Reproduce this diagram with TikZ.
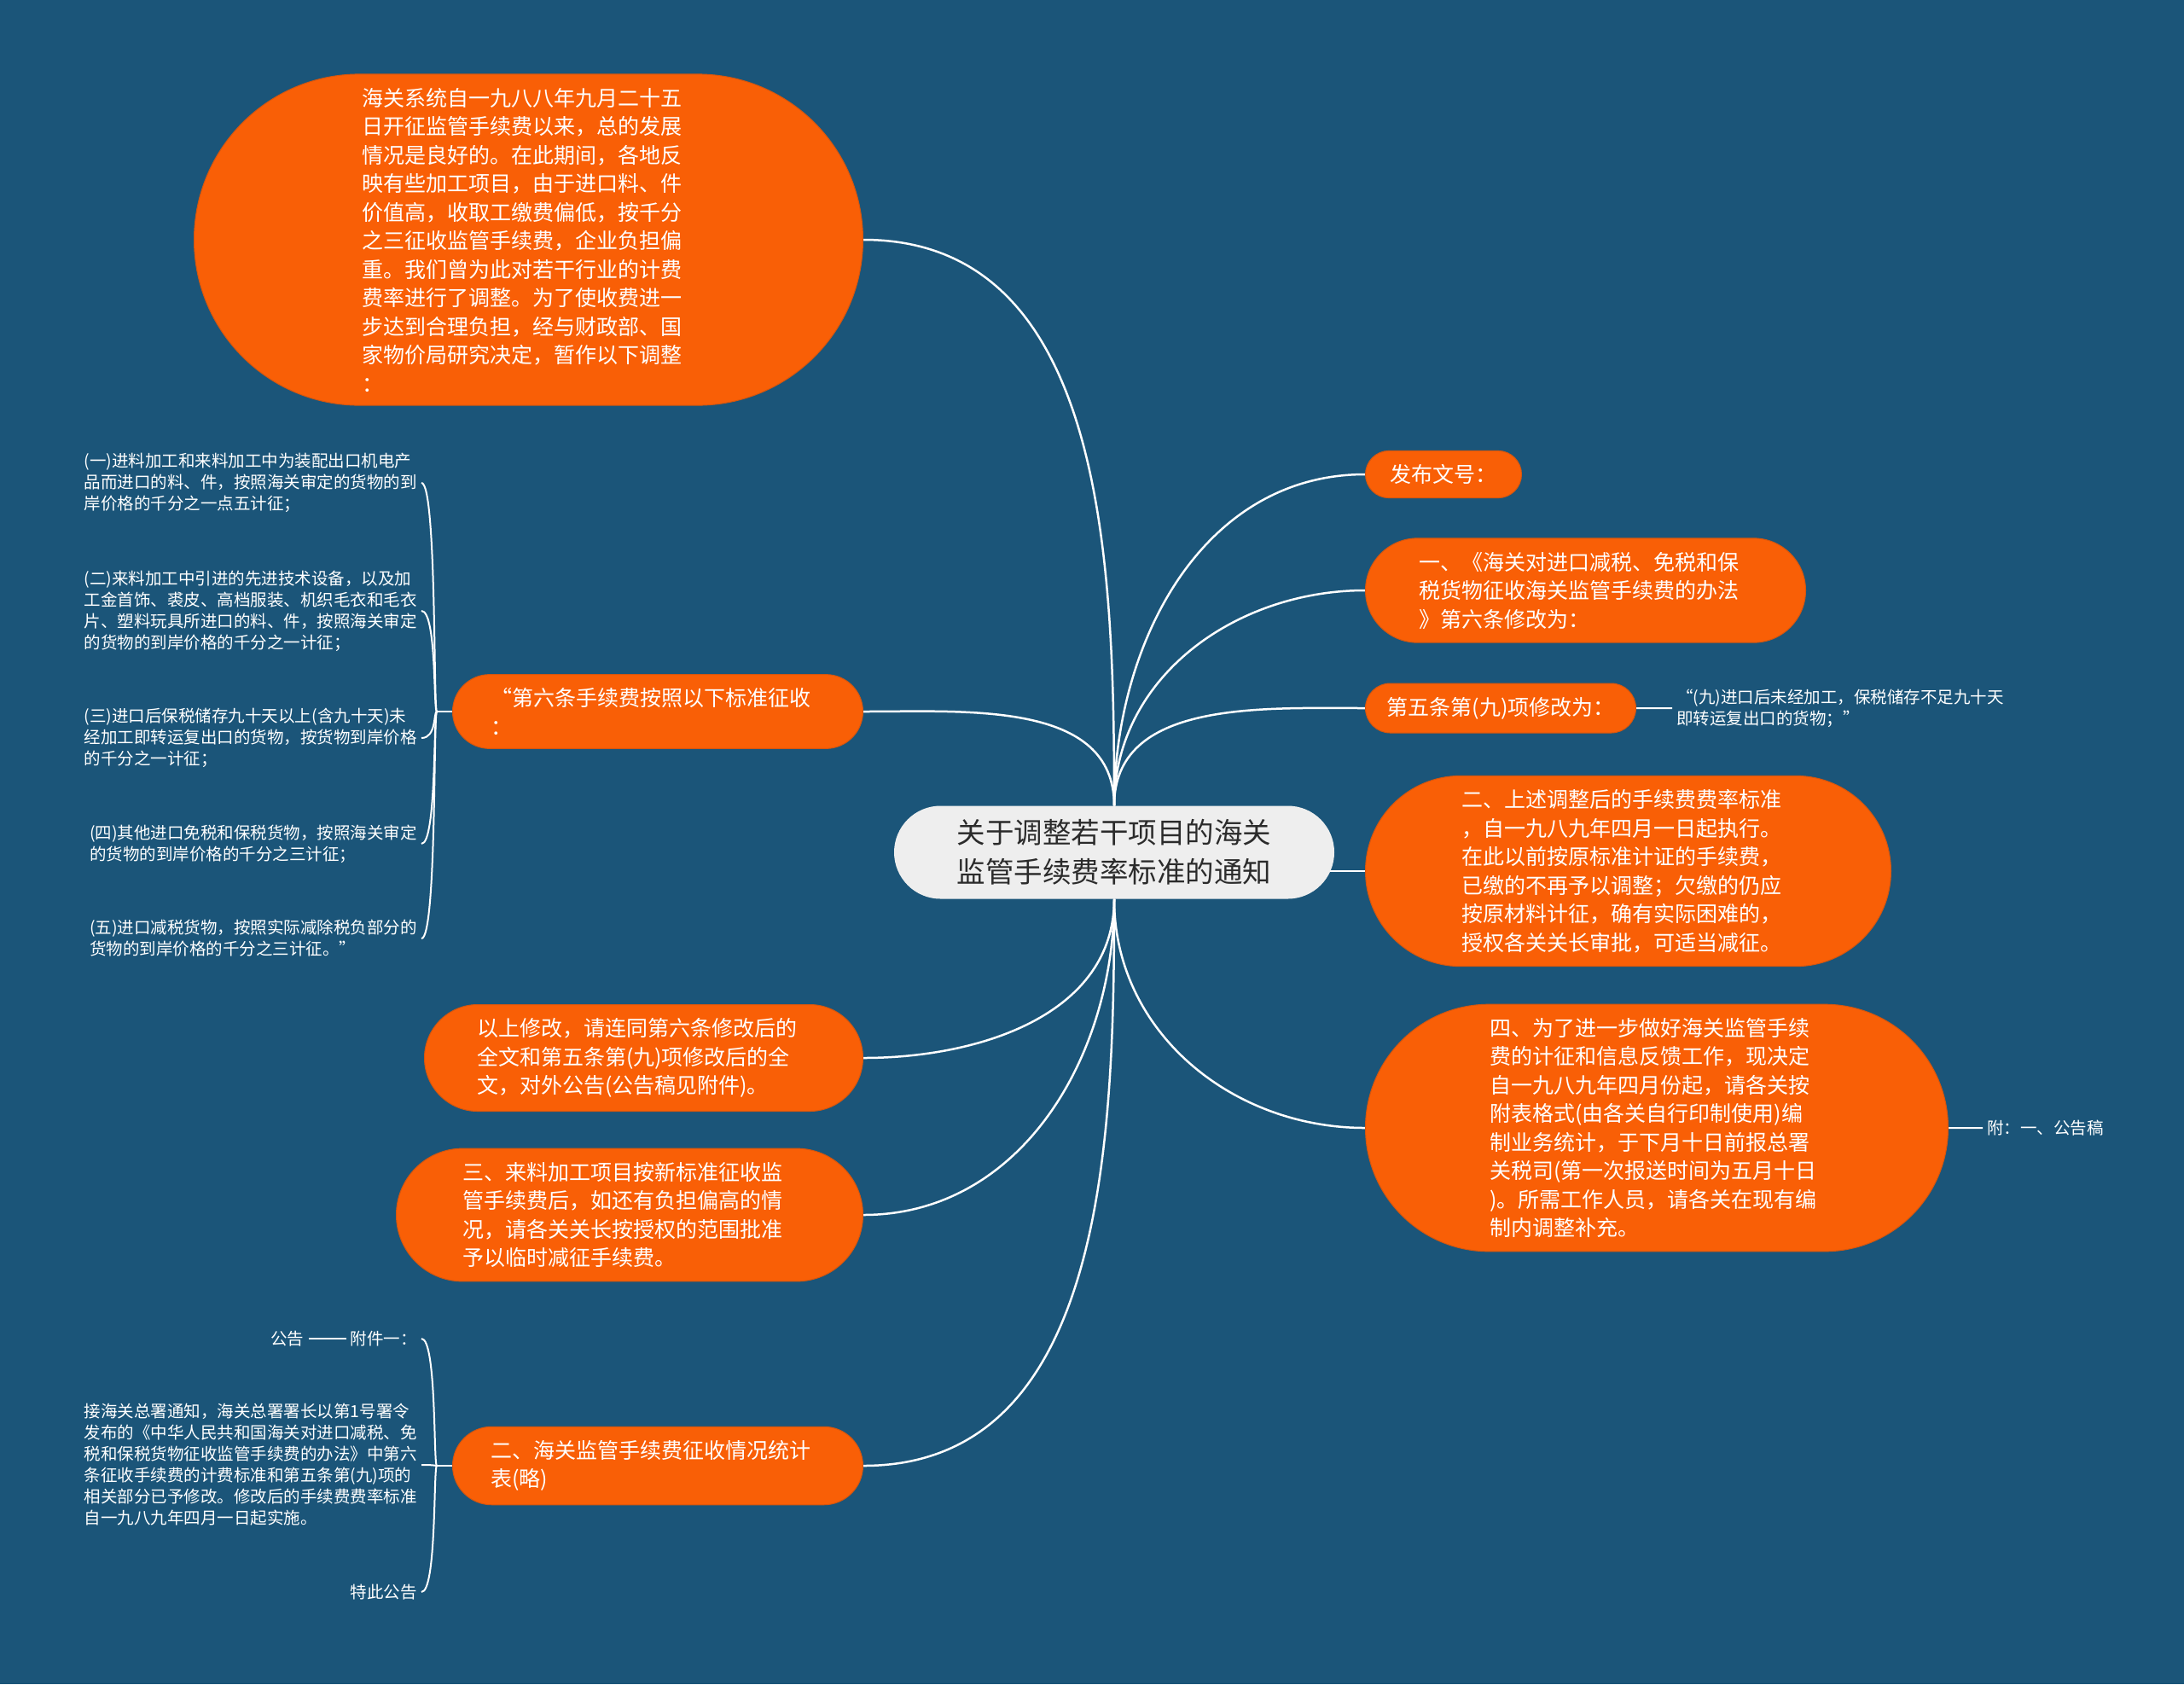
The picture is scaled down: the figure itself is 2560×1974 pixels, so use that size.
\documentclass[tikz,border=0pt]{standalone}
\usepackage{fontspec}
\setmainfont{Noto Sans CJK SC}
\usetikzlibrary{shapes.misc, positioning, calc}

\definecolor{bgblue}{HTML}{1B5579}
\definecolor{topicorange}{HTML}{F95F06}
\definecolor{topicedge}{HTML}{D4560F}
\definecolor{rootgray}{HTML}{EEEEEE}
\definecolor{roottext}{HTML}{2B2B2B}

\pgfdeclarelayer{back}
\pgfdeclarelayer{links}
\pgfsetlayers{back,links,main}

\tikzset{
  root/.style={rounded rectangle, fill=rootgray, text=roottext, align=center,
    font=\fontsize{33.5}{46}\selectfont, inner xsep=10pt, inner ysep=16pt},
  topic/.style={rounded rectangle, fill=topicorange, draw=topicedge, line width=1pt,
    text=white, align=left, font=\fontsize{25}{33.5}\selectfont, inner xsep=8pt, inner ysep=16pt},
  widetopic/.style={topic, text width=391pt},
  leaf/.style={text=white, align=left, font=\fontsize{19.5}{25}\selectfont, inner sep=5pt},
  link/.style={draw=white, line width=2.5pt},
  brace/.style={draw=white, line width=2pt},
}

\begin{document}
\begin{tikzpicture}[x=1pt, y=1pt]
  \begin{pgfonlayer}{back}
    \fill[bgblue] (0,0) rectangle (2560,-1974);
  \end{pgfonlayer}
  \useasboundingbox (0,0) rectangle (2560,-1974);

  % root
  \node[root, minimum width=536pt] (notice) at (1306,-999) {关于调整若干项目的海关\\监管手续费率标准的通知};

  % left side
  \node[widetopic, minimum width=800pt, anchor=east] (intro) at (1012,-281) {海关系统自一九八八年九月二十五\\日开征监管手续费以来，总的发展\\情况是良好的。在此期间，各地反\\映有些加工项目，由于进口料、件\\价值高，收取工缴费偏低，按千分\\之三征收监管手续费，企业负担偏\\重。我们曾为此对若干行业的计费\\费率进行了调整。为了使收费进一\\步达到合理负担，经与财政部、国\\家物价局研究决定，暂作以下调整\\：};
  \node[widetopic, minimum width=497pt, anchor=east] (rule6) at (1012,-834) {“第六条手续费按照以下标准征收\\：};
  \node[widetopic, minimum width=530pt, anchor=east] (publish) at (1012,-1240) {以上修改，请连同第六条修改后的\\全文和第五条第(九)项修改后的全\\文，对外公告(公告稿见附件)。};
  \node[widetopic, minimum width=563pt, anchor=east] (item3) at (1012,-1424) {三、来料加工项目按新标准征收监\\管手续费后，如还有负担偏高的情\\况，请各关关长按授权的范围批准\\予以临时减征手续费。};
  \node[widetopic, minimum width=497pt, anchor=east] (table2) at (1012,-1718) {二、海关监管手续费征收情况统计\\表(略)};

  % right side
  \node[topic, minimum width=199pt, anchor=west] (docno) at (1600,-556) {发布文号：};
  \node[widetopic, minimum width=532pt, anchor=west] (item1) at (1600,-692) {一、《海关对进口减税、免税和保\\税货物征收海关监管手续费的办法\\》第六条修改为：};
  \node[topic, minimum width=333pt, anchor=west] (art5) at (1600,-830) {第五条第(九)项修改为：};
  \node[widetopic, minimum width=632pt, anchor=west] (item2) at (1600,-1021) {二、上述调整后的手续费费率标准\\，自一九八九年四月一日起执行。\\在此以前按原标准计证的手续费，\\已缴的不再予以调整；欠缴的仍应\\按原材料计征，确有实际困难的，\\授权各关关长审批，可适当减征。};
  \node[widetopic, minimum width=699pt, anchor=west] (item4) at (1600,-1322) {四、为了进一步做好海关监管手续\\费的计征和信息反馈工作，现决定\\自一九八九年四月份起，请各关按\\附表格式(由各关自行印制使用)编\\制业务统计，于下月十日前报总署\\关税司(第一次报送时间为五月十日\\)。所需工作人员，请各关在现有编\\制内调整补充。};

  % leaves
  \node[leaf, right=42pt of art5] (art5text) {“(九)进口后未经加工，保税储存不足九十天\\即转运复出口的货物；”};
  \node[leaf, right=40pt of item4] (annex) {附：一、公告稿};

  \node[leaf, anchor=east] (rate1) at (494,-566) {(一)进料加工和来料加工中为装配出口机电产\\品而进口的料、件，按照海关审定的货物的到\\岸价格的千分之一点五计征；};
  \node[leaf, anchor=east] (rate2) at (494,-716) {(二)来料加工中引进的先进技术设备，以及加\\工金首饰、裘皮、高档服装、机织毛衣和毛衣\\片、塑料玩具所进口的料、件，按照海关审定\\的货物的到岸价格的千分之一计征；};
  \node[leaf, anchor=east] (rate3) at (494,-865) {(三)进口后保税储存九十天以上(含九十天)未\\经加工即转运复出口的货物，按货物到岸价格\\的千分之一计征；};
  \node[leaf, anchor=east] (rate4) at (494,-989) {(四)其他进口免税和保税货物，按照海关审定\\的货物的到岸价格的千分之三计征；};
  \node[leaf, anchor=east] (rate5) at (494,-1100) {(五)进口减税货物，按照实际减除税负部分的\\货物的到岸价格的千分之三计征。”};

  \node[leaf, anchor=east] (att1) at (494,-1569) {附件一：};
  \node[leaf, left=44pt of att1] (bulletin) {公告};
  \node[leaf, anchor=east] (decree) at (494,-1717) {接海关总署通知，海关总署署长以第1号署令\\发布的《中华人民共和国海关对进口减税、免\\税和保税货物征收监管手续费的办法》中第六\\条征收手续费的计费标准和第五条第(九)项的\\相关部分已予修改。修改后的手续费费率标准\\自一九八九年四月一日起实施。};
  \node[leaf, anchor=east] (hereby) at (494,-1866) {特此公告};

  \begin{pgfonlayer}{links}
    % root to topics
    \draw[link] (notice.north) to[out=90, in=0] (intro.east);
    \draw[link] (notice.north) to[out=90, in=0] (rule6.east);
    \draw[link] (notice.south) to[out=-90, in=0] (publish.east);
    \draw[link] (notice.south) to[out=-90, in=0] (item3.east);
    \draw[link] (notice.south) to[out=-90, in=0] (table2.east);
    \draw[link] (notice.north) to[out=90, in=180] (docno.west);
    \draw[link] (notice.north) to[out=90, in=180] (item1.west);
    \draw[link] (notice.north) to[out=90, in=180] (art5.west);
    \draw[link] ($(item2.west -| notice.east)+(-12,0)$) -- (item2.west);
    \draw[link] (notice.south) to[out=-90, in=180] (item4.west);

    % topics to leaves
    \draw[brace] (art5) -- (art5text);
    \draw[brace] (item4) -- (annex);
    \draw[brace] (rule6.west) -- ++(-18,0) coordinate (rule6j);
    \foreach \leafname in {rate1,rate2,rate3,rate4,rate5}
      \draw[brace] (rule6j) .. controls +(-4,0) and +(18,0) .. (\leafname.east);
    \draw[brace] (table2.west) -- ++(-18,0) coordinate (table2j);
    \foreach \leafname in {att1,decree,hereby}
      \draw[brace] (table2j) .. controls +(-4,0) and +(18,0) .. (\leafname.east);
    \draw[brace] (bulletin) -- (att1);
  \end{pgfonlayer}
\end{tikzpicture}
\end{document}
